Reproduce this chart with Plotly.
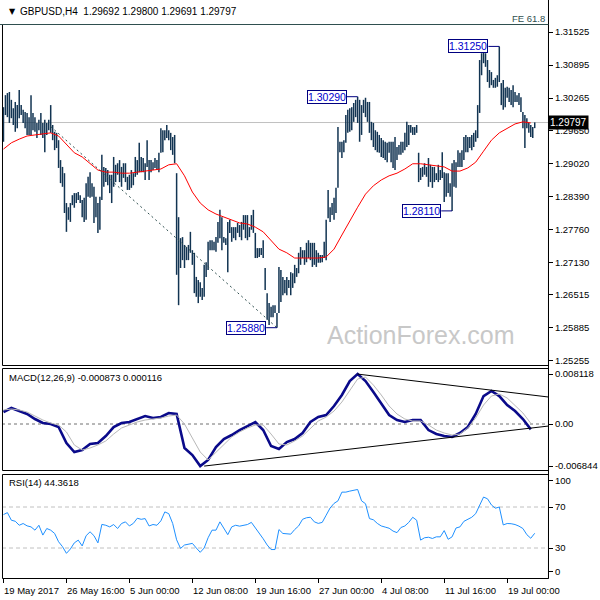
import plotly.graph_objects as go

# ---------------- data ----------------
title_text = "GBPUSD,H4\u00a0\u00a01.29692 1.29800 1.29691 1.29797"
last_close = 1.29797
last_close_text = "1.29797"

highs = [
    1.3009, 1.3032, 1.3036, 1.3038, 1.3023, 1.3007, 1.3019, 1.3013, 1.3042, 1.3013,
    1.3004, 1.3000, 1.2998, 1.2990, 1.3032, 1.2998, 1.2990, 1.2979, 1.2985, 1.2998,
    1.2979, 1.2985, 1.2979, 1.2985, 1.3013, 1.2975, 1.2962, 1.2960, 1.2946, 1.2908,
    1.2895, 1.2883, 1.2826, 1.2818, 1.2826, 1.2841, 1.2845, 1.2845, 1.2847, 1.2841,
    1.2832, 1.2836, 1.2864, 1.2876, 1.2885, 1.2864, 1.2857, 1.2838, 1.2826, 1.2838,
    1.2918, 1.2895, 1.2893, 1.2889, 1.2880, 1.2880, 1.2914, 1.2899, 1.2902, 1.2908,
    1.2895, 1.2902, 1.2902, 1.2876, 1.2880, 1.2889, 1.2883, 1.2914, 1.2908, 1.2941,
    1.2914, 1.2912, 1.2902, 1.2946, 1.2908, 1.2908, 1.2904, 1.2912, 1.2908, 1.2922,
    1.2969, 1.2965, 1.2965, 1.2975, 1.2965, 1.2960, 1.2952, 1.2956, 1.2883, 1.2799,
    1.2759, 1.2761, 1.2746, 1.2742, 1.2746, 1.2771, 1.2736, 1.2731, 1.2685, 1.2679,
    1.2675, 1.2664, 1.2708, 1.2713, 1.2752, 1.2755, 1.2755, 1.2752, 1.2761, 1.2790,
    1.2813, 1.2799, 1.2761, 1.2759, 1.2790, 1.2794, 1.2780, 1.2780, 1.2780, 1.2788,
    1.2784, 1.2790, 1.2803, 1.2803, 1.2803, 1.2780, 1.2803, 1.2813, 1.2769, 1.2740,
    1.2740, 1.2740, 1.2755, 1.2702, 1.2654, 1.2635, 1.2628, 1.2631, 1.2631, 1.2616,
    1.2704, 1.2698, 1.2685, 1.2679, 1.2685, 1.2679, 1.2694, 1.2692, 1.2708, 1.2702,
    1.2731, 1.2742, 1.2736, 1.2736, 1.2750, 1.2755, 1.2750, 1.2750, 1.2750, 1.2736,
    1.2731, 1.2727, 1.2727, 1.2752, 1.2794, 1.2851, 1.2818, 1.2826, 1.2836, 1.2855,
    1.2971, 1.2943, 1.2943, 1.2946, 1.2994, 1.3004, 1.3007, 1.3009, 1.3017, 1.3023,
    1.3029, 1.3023, 1.3013, 1.3023, 1.3027, 1.3019, 1.3019, 1.2981, 1.2979, 1.2965,
    1.2962, 1.2956, 1.2950, 1.2946, 1.2943, 1.2941, 1.2943, 1.2943, 1.2943, 1.2952,
    1.2933, 1.2937, 1.2943, 1.2943, 1.2960, 1.2981, 1.2975, 1.2975, 1.2971, 1.2971,
    1.2975, 1.2922, 1.2893, 1.2895, 1.2902, 1.2895, 1.2912, 1.2899, 1.2895, 1.2895,
    1.2883, 1.2899, 1.2889, 1.2923, 1.2885, 1.2883, 1.2883, 1.2864, 1.2902, 1.2908,
    1.2904, 1.2927, 1.2922, 1.2927, 1.2952, 1.2956, 1.2952, 1.2952, 1.2956, 1.2960,
    1.2965, 1.3013, 1.3099, 1.3112, 1.3122, 1.3112, 1.3099, 1.3080, 1.3076, 1.3061,
    1.3065, 1.3070, 1.3125, 1.3055, 1.3061, 1.3046, 1.3048, 1.3046, 1.3042, 1.3051,
    1.3038, 1.3032, 1.3036, 1.3028, 1.3000, 1.2994, 1.2988, 1.2979, 1.2975, 1.2971,
    1.2980,
]
lows = [
    1.2943, 1.2994, 1.2990, 1.2979, 1.2988, 1.2975, 1.2962, 1.2969, 1.2988, 1.2994,
    1.2979, 1.2969, 1.2956, 1.2956, 1.2956, 1.2965, 1.2962, 1.2950, 1.2965, 1.2956,
    1.2950, 1.2923, 1.2956, 1.2965, 1.2960, 1.2946, 1.2927, 1.2931, 1.2893, 1.2864,
    1.2857, 1.2807, 1.2771, 1.2794, 1.2790, 1.2822, 1.2817, 1.2826, 1.2832, 1.2826,
    1.2799, 1.2790, 1.2794, 1.2838, 1.2836, 1.2838, 1.2788, 1.2799, 1.2769, 1.2775,
    1.2832, 1.2857, 1.2866, 1.2860, 1.2845, 1.2826, 1.2857, 1.2866, 1.2880, 1.2866,
    1.2857, 1.2874, 1.2866, 1.2851, 1.2851, 1.2855, 1.2860, 1.2876, 1.2880, 1.2885,
    1.2885, 1.2885, 1.2870, 1.2895, 1.2870, 1.2885, 1.2889, 1.2893, 1.2889, 1.2885,
    1.2922, 1.2923, 1.2946, 1.2950, 1.2946, 1.2927, 1.2918, 1.2902, 1.2689, 1.2631,
    1.2702, 1.2717, 1.2702, 1.2717, 1.2717, 1.2731, 1.2708, 1.2654, 1.2647, 1.2635,
    1.2647, 1.2641, 1.2647, 1.2685, 1.2698, 1.2736, 1.2736, 1.2736, 1.2733, 1.2750,
    1.2759, 1.2736, 1.2750, 1.2746, 1.2694, 1.2769, 1.2752, 1.2759, 1.2755, 1.2769,
    1.2761, 1.2755, 1.2775, 1.2759, 1.2755, 1.2761, 1.2775, 1.2769, 1.2721, 1.2721,
    1.2723, 1.2727, 1.2721, 1.2660, 1.2603, 1.2593, 1.2608, 1.2608, 1.2616, 1.2588,
    1.2616, 1.2637, 1.2650, 1.2654, 1.2650, 1.2664, 1.2650, 1.2664, 1.2673, 1.2685,
    1.2692, 1.2708, 1.2721, 1.2708, 1.2713, 1.2721, 1.2717, 1.2704, 1.2708, 1.2704,
    1.2712, 1.2712, 1.2713, 1.2721, 1.2717, 1.2797, 1.2790, 1.2803, 1.2794, 1.2807,
    1.2855, 1.2923, 1.2912, 1.2923, 1.2941, 1.2960, 1.2962, 1.2965, 1.2981, 1.2990,
    1.2979, 1.2943, 1.2956, 1.2998, 1.2990, 1.2981, 1.2960, 1.2946, 1.2933, 1.2927,
    1.2923, 1.2922, 1.2914, 1.2912, 1.2908, 1.2904, 1.2922, 1.2904, 1.2893, 1.2889,
    1.2908, 1.2918, 1.2918, 1.2922, 1.2927, 1.2933, 1.2937, 1.2960, 1.2956, 1.2956,
    1.2960, 1.2866, 1.2870, 1.2876, 1.2880, 1.2876, 1.2857, 1.2866, 1.2855, 1.2866,
    1.2870, 1.2866, 1.2870, 1.2874, 1.2828, 1.2838, 1.2845, 1.2838, 1.2811, 1.2857,
    1.2855, 1.2895, 1.2895, 1.2895, 1.2908, 1.2923, 1.2923, 1.2931, 1.2927, 1.2933,
    1.2943, 1.2950, 1.2998, 1.3070, 1.3093, 1.3086, 1.3057, 1.3046, 1.3051, 1.3046,
    1.3046, 1.3048, 1.3057, 1.3013, 1.3004, 1.3009, 1.3027, 1.3019, 1.3013, 1.3009,
    1.3019, 1.3019, 1.3013, 1.3000, 1.2969, 1.2931, 1.2969, 1.2960, 1.2952, 1.2950,
    1.2969,
]

# moving average (red), read every 4th bar
ma_step = 4
ma_values = [
    1.2929, 1.2941, 1.2948, 1.2954, 1.2956, 1.2958, 1.2960, 1.2954, 1.2937, 1.2922,
    1.2914, 1.2902, 1.2889, 1.2885, 1.2885, 1.2883, 1.2883, 1.2885, 1.2887, 1.2889,
    1.2891, 1.2899, 1.2901, 1.2878, 1.2847, 1.2826, 1.2813, 1.2805, 1.2799, 1.2794,
    1.2788, 1.2786, 1.2780, 1.2771, 1.2755, 1.2738, 1.2731, 1.2721, 1.2721, 1.2721,
    1.2721, 1.2723, 1.2738, 1.2765, 1.2792, 1.2818, 1.2843, 1.2859, 1.2870, 1.2878,
    1.2883, 1.2891, 1.2901, 1.2901, 1.2899, 1.2897, 1.2895, 1.2887, 1.2887, 1.2893,
    1.2904, 1.2925, 1.2946, 1.2960, 1.2969, 1.2977, 1.2981, 1.2979,
]

# MACD(12,26,9), read every 4th bar
macd_step = 4
macd_values = [
    0.00195, 0.00260, 0.00211, 0.00163, 0.00081, 0.00016, 0.0, -0.00049, -0.00309, -0.00455,
    -0.00423, -0.00325, -0.00309, -0.00195, -0.00049, 0.00016, 0.00033, 0.00081, 0.00130, 0.00098,
    0.00114, 0.00179, 0.00163, -0.00390, -0.00504, -0.00684, -0.00585, -0.00374, -0.00244, -0.00179,
    -0.00098, -0.00033, 0.00033, -0.00098, -0.00358, -0.00407, -0.00293, -0.00244, -0.00146, 0.00033,
    0.00114, 0.00146, 0.00293, 0.00472, 0.00699, 0.00812, 0.00699, 0.00520, 0.00341, 0.00146,
    0.00065, 0.00033, 0.00065, 0.00065, -0.00098, -0.00163, -0.00195, -0.00211, -0.00146, -0.00049,
    0.00163, 0.00455, 0.00537, 0.00455, 0.00309, 0.00211, 0.00081, -0.00087,
]
signal_values = [
    0.00228, 0.00244, 0.00228, 0.00195, 0.00130, 0.00065, 0.00016, -0.00016, -0.00130, -0.00341,
    -0.00423, -0.00390, -0.00341, -0.00276, -0.00163, -0.00065, -0.00016, 0.00033, 0.00065, 0.00081,
    0.00098, 0.00130, 0.00146, 0.0, -0.00228, -0.00455, -0.00585, -0.00455, -0.00325, -0.00211,
    -0.00130, -0.00065, -0.00016, -0.00016, -0.00163, -0.00325, -0.00341, -0.00276, -0.00195, -0.00065,
    0.00049, 0.00114, 0.00211, 0.00358, 0.00553, 0.00732, 0.00764, 0.00634, 0.00472, 0.00293,
    0.00163, 0.00081, 0.00049, 0.00049, -0.00016, -0.00098, -0.00146, -0.00179, -0.00163, -0.00065,
    0.00098, 0.00309, 0.00455, 0.00488, 0.00423, 0.00293, 0.00179, 0.00012,
]

# RSI(14), read every 2nd bar
rsi_step = 2
rsi_values = [
    62.6, 64.5, 57.1, 56.1, 52.2, 53.9, 51.6, 50.6, 47.4, 52.2,
    42.6, 49.0, 47.4, 44.2, 36.1, 31.3, 24.8, 29.0, 35.0, 37.7,
    32.0, 42.0, 45.8, 42.0, 35.0, 53.0, 52.2, 50.6, 52.9, 49.0,
    53.9, 55.5, 51.5, 54.0, 59.0, 58.0, 58.7, 51.5, 52.9, 52.2,
    56.5, 65.2, 63.5, 53.9, 38.0, 29.6, 32.9, 33.5, 34.5, 30.0,
    25.8, 30.0, 40.0, 47.4, 47.4, 55.5, 49.0, 43.0, 50.6, 52.2,
    51.3, 52.0, 52.9, 55.0, 50.0, 44.0, 39.0, 33.0, 28.5, 28.5,
    48.0, 44.2, 44.2, 43.5, 48.0, 51.5, 58.0, 59.5, 60.0, 55.5,
    54.0, 55.0, 62.0, 69.0, 73.5, 76.0, 84.5, 84.5, 85.5, 86.3,
    87.1, 76.0, 73.2, 58.7, 57.5, 54.0, 51.5, 50.4, 49.3, 46.5,
    45.0, 50.0, 51.5, 55.0, 60.0, 57.1, 37.7, 40.0, 40.5, 39.3,
    40.9, 40.9, 47.0, 38.5, 40.9, 49.5, 50.6, 56.0, 58.0, 60.0,
    63.5, 71.0, 79.7, 78.0, 72.0, 68.8, 70.0, 52.5, 53.9, 53.7,
    52.9, 51.3, 49.0, 43.0, 39.5, 44.36,
]

macd_label = "MACD(12,26,9) -0.000873 0.000116"
rsi_label = "RSI(14) 44.3618"

tick_bars = [0, 32, 64, 96, 128, 160, 192, 224, 256]
tick_labels = ["19 May 2017", "26 May 16:00", "5 Jun 00:00", "12 Jun 08:00",
               "19 Jun 16:00", "27 Jun 00:00", "4 Jul 08:00", "11 Jul 16:00",
               "19 Jul 00:00"]
price_ticks = [1.31525, 1.30895, 1.30265, 1.29650, 1.29020, 1.28390,
               1.27760, 1.27130, 1.26515, 1.25885, 1.25255]
macd_ticks = [0.008118, 0.0, -0.006844]
macd_tick_text = ["0.008118", "0.00", "-0.006844"]
rsi_levels = [70, 30]
rsi_tick_text = ["100", "70", "30", "0"]

pivot_bars = [252, 180, 139, 228]
pivot_prices = [1.3125, 1.3029, 1.2588, 1.2811]
pivot_text = ["1.31250", "1.30290", "1.25880", "1.28110"]

price_trend = [(24, 1.2972), (139, 1.2588)]
macd_upper = [(180, 0.00812), (277, 0.00439)]
macd_lower = [(102, -0.00684), (277, -0.00033)]

fe_label = "FE 61.8"
watermark = "ActionForex.com"

# ---------------- layout geometry / styles ----------------
W, H = 600, 600
L, R, T, B = 2, 43, 24, 22
PW, PH = W - L - R, H - T - B


def fx(p):
    return (p - L) / PW


def fy(p):
    return (H - B - p) / PH


FONT = "Liberation Sans, Arial, sans-serif"
FS = 9.5
BAR = "#123452"
SLATE = "#2f4f4f"

main_dom = [fy(365), 1.0]
macd_dom = [fy(470), fy(368)]
rsi_dom = [0.0, fy(474)]

fig = go.Figure()

bx, by = [], []
for i, (h, l) in enumerate(zip(highs, lows)):
    bx += [i, i, None]
    by += [l, h, None]
fig.add_trace(go.Scatter(x=bx, y=by, mode="lines", line=dict(color=BAR, width=1.5),
                         yaxis="y", hoverinfo="skip", showlegend=False))
fig.add_trace(go.Scatter(x=[k * ma_step for k in range(len(ma_values))], y=ma_values,
                         mode="lines", line=dict(color="#ff0000", width=1),
                         yaxis="y", hoverinfo="skip", showlegend=False))
fig.add_trace(go.Scatter(x=[k * macd_step for k in range(len(macd_values))], y=macd_values,
                         mode="lines", line=dict(color="#0a0a8a", width=2.6),
                         yaxis="y2", hoverinfo="skip", showlegend=False))
fig.add_trace(go.Scatter(x=[k * macd_step for k in range(len(signal_values))], y=signal_values,
                         mode="lines", line=dict(color="#b8b8b8", width=1),
                         yaxis="y2", hoverinfo="skip", showlegend=False))
fig.add_trace(go.Scatter(x=[k * rsi_step for k in range(len(rsi_values))], y=rsi_values,
                         mode="lines", line=dict(color="#1e90ff", width=1),
                         yaxis="y3", hoverinfo="skip", showlegend=False))

shapes = []
shapes.append(dict(type="line", xref="paper", yref="y", x0=0, x1=1, y0=last_close, y1=last_close,
                   line=dict(color="#c0c0c0", width=1), layer="below"))
shapes.append(dict(type="line", xref="x", yref="y", x0=price_trend[0][0], y0=price_trend[0][1],
                   x1=price_trend[1][0], y1=price_trend[1][1],
                   line=dict(color=SLATE, width=1, dash="2px,3px")))
shapes.append(dict(type="line", xref="paper", yref="y2", x0=0, x1=1, y0=0, y1=0,
                   line=dict(color="#707070", width=1, dash="3px,3px"), layer="below"))
for seg in (macd_upper, macd_lower):
    shapes.append(dict(type="line", xref="x", yref="y2", x0=seg[0][0], y0=seg[0][1],
                       x1=seg[1][0], y1=seg[1][1], line=dict(color="#000000", width=1)))
for lv in rsi_levels:
    shapes.append(dict(type="line", xref="paper", yref="y3", x0=0, x1=1, y0=lv, y1=lv,
                       line=dict(color="#c0c0c0", width=1, dash="4px,3px"), layer="below"))
GAP = 5.5
for b, p in zip(pivot_bars, pivot_prices):
    shapes.append(dict(type="line", xref="x", yref="y", x0=b - GAP, x1=b, y0=p, y1=p,
                       line=dict(color="#000080", width=1)))
for top, bot in ((24.5, 365.5), (368.5, 470.5), (474.5, 578.5)):
    shapes.append(dict(type="rect", xref="paper", yref="paper", x0=fx(2.5), x1=fx(557.5),
                       y0=fy(bot), y1=fy(top), line=dict(color="#000000", width=1)))
shapes.append(dict(type="line", xref="paper", yref="paper", x0=fx(557.5), x1=fx(557.5),
                   y0=fy(578.5), y1=fy(0), line=dict(color="#000000", width=1)))
shapes.append(dict(type="line", xref="paper", yref="paper", x0=fx(0), x1=fx(557.5),
                   y0=fy(24.5), y1=fy(24.5), line=dict(color=SLATE, width=1)))

ann = []
ann.append(dict(xref="paper", yref="paper", x=fx(7), y=fy(11), text="\u25bc", showarrow=False,
                xanchor="left", yanchor="middle", font=dict(family="DejaVu Sans", size=8, color="#000")))
ann.append(dict(xref="paper", yref="paper", x=fx(18), y=fy(11), text=title_text, showarrow=False,
                xanchor="left", yanchor="middle", font=dict(family=FONT, size=10, color="#000")))
ann.append(dict(xref="paper", yref="paper", x=fx(556), y=fy(18), text=fe_label, showarrow=False,
                xanchor="right", yanchor="middle", font=dict(family=FONT, size=FS, color=SLATE)))
ann.append(dict(xref="paper", yref="paper", x=fx(7), y=fy(377), text=macd_label, showarrow=False,
                xanchor="left", yanchor="middle", font=dict(family=FONT, size=FS, color="#000")))
ann.append(dict(xref="paper", yref="paper", x=fx(7), y=fy(482), text=rsi_label, showarrow=False,
                xanchor="left", yanchor="middle", font=dict(family=FONT, size=FS, color="#000")))
ann.append(dict(xref="paper", yref="paper", x=fx(428), y=fy(335), text=watermark, showarrow=False,
                xanchor="center", yanchor="middle", font=dict(family=FONT, size=25, color="#c8c8c8")))
for b, p, t in zip(pivot_bars, pivot_prices, pivot_text):
    ann.append(dict(xref="x", yref="y", x=b - GAP, y=p, text=t, showarrow=False,
                    xanchor="right", yanchor="middle", bgcolor="#ffffff",
                    bordercolor="#000080", borderwidth=1, borderpad=0,
                    font=dict(family=FONT, size=10.5, color="#0000cd")))
ann.append(dict(xref="paper", yref="y", x=fx(557), y=last_close, text=last_close_text,
                showarrow=False, xanchor="left", yanchor="middle", bgcolor="#000000",
                borderpad=1, font=dict(family=FONT, size=FS + 0.5, color="#ffffff")))
for b, t in zip(tick_bars, tick_labels):
    ann.append(dict(xref="x", yref="paper", x=b, y=fy(590), text=t, showarrow=False,
                    xanchor="left", yanchor="middle", xshift=-1,
                    font=dict(family=FONT, size=FS, color="#000")))

common_y = dict(side="right", anchor="x", showgrid=False, zeroline=False, showline=False,
                ticks="outside", ticklen=4, tickcolor="#000", fixedrange=True,
                tickfont=dict(family=FONT, size=FS, color="#000"))

fig.update_layout(
    width=W, height=H,
    margin=dict(l=L, r=R, t=T, b=B, pad=0),
    paper_bgcolor="#ffffff", plot_bgcolor="#ffffff",
    showlegend=False,
    xaxis=dict(domain=[0, 1], range=[-0.75, 276.75], anchor="y3", showgrid=False,
               zeroline=False, showline=False, ticks="outside", ticklen=4, tickcolor="#000",
               tickvals=tick_bars, showticklabels=False, fixedrange=True),
    yaxis=dict(domain=main_dom, range=[1.25168, 1.31678], tickvals=price_ticks,
               ticktext=["%.5f" % v for v in price_ticks], **common_y),
    yaxis2=dict(domain=macd_dom, range=[-0.00748, 0.00911], tickvals=macd_ticks,
                ticktext=macd_tick_text, **common_y),
    yaxis3=dict(domain=rsi_dom, range=[0.73, 102.2], tickvals=[95.4, 70, 30, 6.6],
                ticktext=rsi_tick_text, **common_y),
    shapes=shapes,
    annotations=ann,
)

fig.write_html("out.html", config={"displayModeBar": False})

# remove the browser's default page margin so the 600x600 figure sits at (0, 0)
with open("out.html", "r", encoding="utf-8") as f:
    html = f.read()
html = html.replace("<head>", "<head><style>html,body{margin:0;padding:0;overflow:hidden;}</style>", 1)
with open("out.html", "w", encoding="utf-8") as f:
    f.write(html)
